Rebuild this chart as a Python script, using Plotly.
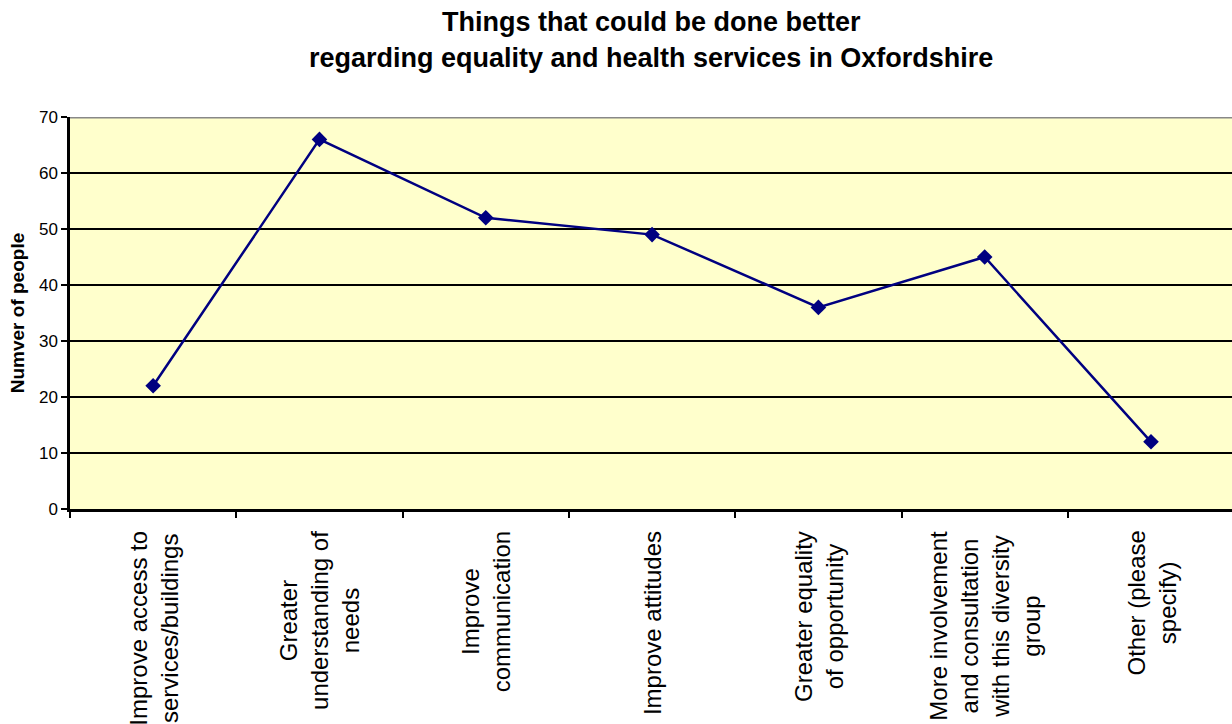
import plotly.graph_objects as go

# Survey responses: suggested improvements and number of people choosing each
categories = [
    "Improve access to<br>services/buildings",
    "Greater<br>understanding of<br>needs",
    "Improve<br>communication",
    "Improve attitudes",
    "Greater equality<br>of opportunity",
    "More involvement<br>and consultation<br>with this diversity<br>group",
    "Other (please<br>specify)",
]
people = [22, 66, 52, 49, 36, 45, 12]

y_ticks = [0, 10, 20, 30, 40, 50, 60, 70]

title_lines = [
    "Things that could be done better",
    "regarding equality and health services in Oxfordshire",
]

FONT = "Liberation Sans, Arial, sans-serif"
NAVY = "#000080"

fig = go.Figure(
    go.Scatter(
        x=list(range(len(categories))),
        y=people,
        mode="lines+markers",
        line=dict(color=NAVY, width=2.5),
        marker=dict(symbol="diamond", size=12, color=NAVY),
        hoverinfo="skip",
    )
)

# Category labels, rotated, centred line by line and hung from the axis
for i, label in enumerate(categories):
    fig.add_annotation(
        x=i, xref="x", y=0, yref="paper",
        text=label, textangle=-90, align="center",
        xanchor="center", yanchor="top", yshift=-20,
        showarrow=False,
        font=dict(family=FONT, size=24, color="black"),
    )

# Two-line heading above the plotting area
for text, shift in zip(title_lines, [95, 59]):
    fig.add_annotation(
        x=0.5, xref="paper", y=1, yref="paper",
        text=f"<b>{text}</b>", xanchor="center", yanchor="middle",
        yshift=shift, showarrow=False,
        font=dict(family=FONT, size=27, color="black"),
    )

# Grey top edge of the plotting area
fig.add_shape(
    type="line", xref="paper", yref="y", x0=0, x1=1, y0=70, y1=70,
    line=dict(color="#888888", width=3), layer="above",
)

fig.update_layout(
    width=1232, height=724,
    margin=dict(l=70, r=0, t=117, b=215),
    paper_bgcolor="white",
    plot_bgcolor="#FFFFCC",
    showlegend=False,
    font=dict(family=FONT, color="black"),
)

fig.update_xaxes(
    range=[-0.5, 6.487],
    tickmode="array",
    tickvals=[i - 0.5 for i in range(len(categories) + 1)],
    ticktext=[""] * (len(categories) + 1),
    ticks="outside", ticklen=6, tickwidth=2, tickcolor="black",
    showgrid=False, zeroline=False,
    showline=True, linecolor="black", linewidth=2.5,
)

fig.update_yaxes(
    range=[0, 70],
    tickvals=y_ticks,
    ticks="outside", ticklen=6, tickwidth=2, tickcolor="black",
    tickfont=dict(family=FONT, size=17, color="black"),
    showgrid=True, gridcolor="black", gridwidth=1.5,
    zeroline=False,
    showline=True, linecolor="black", linewidth=2.5,
    title=dict(
        text="Numver of people",
        font=dict(family=FONT, size=19, color="black", weight="bold"),
        standoff=10,
    ),
)

fig.write_html("out.html")
